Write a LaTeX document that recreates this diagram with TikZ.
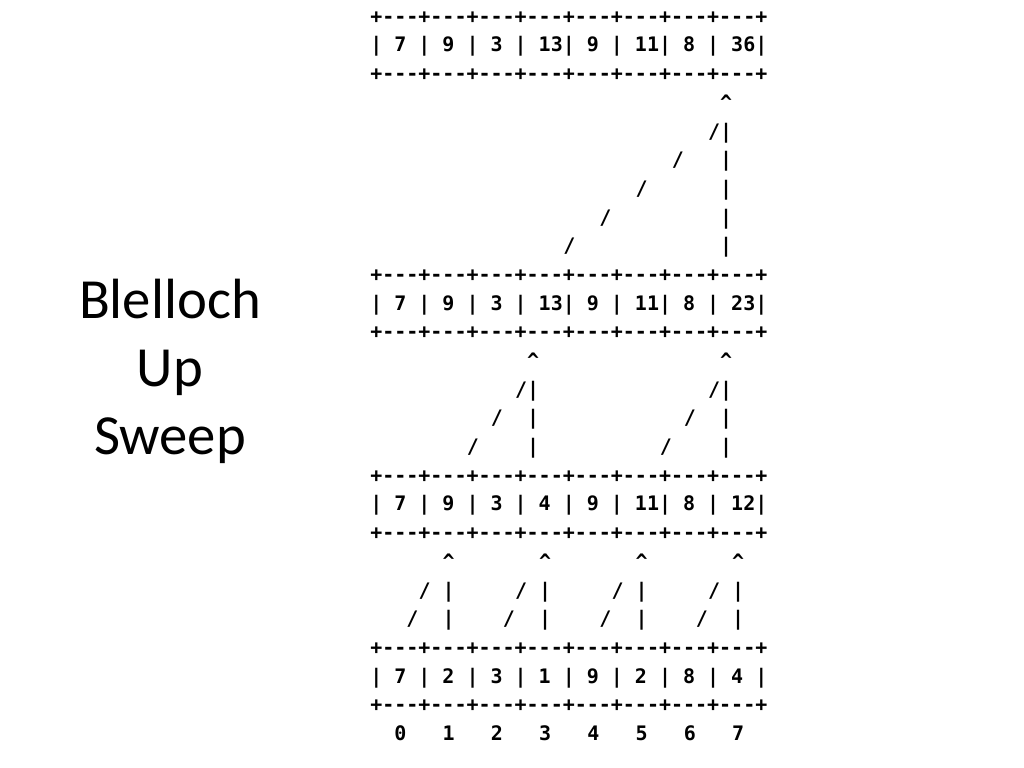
\documentclass[tikz,border=0pt]{standalone}
\usepackage{fontspec}
\setmainfont{Carlito}
\setmonofont{DejaVu Sans Mono}
\tikzset{
    asc/.style={anchor=base west, inner sep=0pt, font=\ttfamily\bfseries\fontsize{14.1pt}{17pt}\selectfont}, % one piece of the ascii drawing
    word/.style={anchor=base, inner sep=0pt, font=\fontsize{40pt}{48pt}\selectfont}, % title words on the left
}

\begin{document}
\begin{tikzpicture}[x=0.0248cm, y=-0.0248cm]
\useasboundingbox (0,0) rectangle (1024,768);
% title on the left
\node[word] (w1) at (170,318) {Blelloch};
\node[word] (w2) at (170,386) {Up};
\node[word] (w3) at (170,454) {Sweep};
% the ascii drawing, one unit = one character cell
\begin{scope}[shift={(370,23.3)}, x=0.2991cm, y=-0.7113cm]
    \foreach \r in {0,2,9,11,16,18,22,24}
        \node[asc] (b\r) at (0,\r) {+---+---+---+---+---+---+---+---+};
    \node[asc] (v1) at (0,1) {|~7~|~9~|~3~|~13|~9~|~11|~8~|~36|};
    \node[asc] (v10) at (0,10) {|~7~|~9~|~3~|~13|~9~|~11|~8~|~23|};
    \node[asc] (v17) at (0,17) {|~7~|~9~|~3~|~4~|~9~|~11|~8~|~12|};
    \node[asc] (v23) at (0,23) {|~7~|~2~|~3~|~1~|~9~|~2~|~8~|~4~|};
    \foreach \i in {0,...,7}
        \node[asc] (i\i) at (4*\i+2,25) {\i};
    % last step
    \node[asc] (top) at (29,3) {\textasciicircum};
    \foreach \r in {4,...,8}
        \node[asc] (topbar\r) at (29,\r) {|};
    \foreach \c [count=\r from 4] in {28,25,22,19,16}
        \node[asc] (topsl\r) at (\c,\r) {/};
    % middle step
    \foreach \p in {13,29} {
        \node[asc] (mid\p) at (\p,12) {\textasciicircum};
        \foreach \r in {13,14,15}
            \node[asc] (midbar\p-\r) at (\p,\r) {|};
        \foreach \d [count=\r from 13] in {1,3,5}
            \node[asc] (midsl\p-\r) at (\p-\d,\r) {/};
    }
    % first step
    \foreach \p in {6,14,22,30} {
        \node[asc] (low\p) at (\p,19) {\textasciicircum};
        \foreach \r in {20,21}
            \node[asc] (lowbar\p-\r) at (\p,\r) {|};
        \foreach \d [count=\r from 20] in {2,3}
            \node[asc] (lowsl\p-\r) at (\p-\d,\r) {/};
    }
\end{scope}
\end{tikzpicture}
\end{document}
